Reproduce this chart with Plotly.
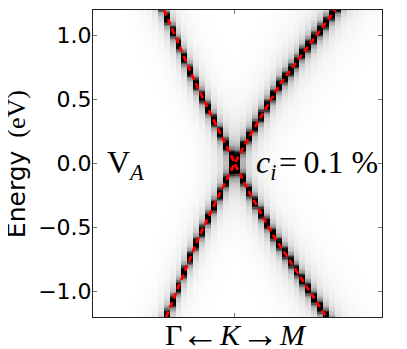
import numpy as np
import plotly.graph_objects as go

# Spectral peak position (eV) of each momentum column.
# Columns are listed outward from K (k = 0.5, 1.5, ...).
left_upper = [0.05, 0.145, 0.24, 0.335, 0.43, 0.52, 0.62, 0.72, 0.825, 0.93, 1.03, 1.135,
              1.24, 1.345, 1.45, 1.56, 1.67, 1.78, 1.89, 2.0, 2.1, 2.2, 2.3, 2.4]
left_lower = [-0.045, -0.14, -0.24, -0.335, -0.43, -0.53, -0.63, -0.74, -0.85, -0.97, -1.08, -1.19,
              -1.30, -1.42, -1.53, -1.64, -1.75, -1.86, -1.97, -2.08, -2.18, -2.28, -2.38, -2.48]
right_upper = [0.04, 0.13, 0.21, 0.29, 0.37, 0.45, 0.53, 0.61, 0.67, 0.73, 0.79, 0.86, 0.92,
               0.98, 1.04, 1.10, 1.165, 1.225, 1.29, 1.35, 1.41, 1.47, 1.535, 1.6, 1.66]
right_lower = [-0.04, -0.125, -0.22, -0.305, -0.39, -0.47, -0.555, -0.63, -0.70, -0.77, -0.84, -0.91,
               -0.98, -1.055, -1.125, -1.195, -1.265, -1.335, -1.41, -1.48, -1.55, -1.62, -1.69, -1.76, -1.83]

# Line shape: darkness against distance from the peak (eV).
shape_offset = [0.0, 0.025, 0.04, 0.06, 0.09, 0.14, 0.2, 0.3, 0.5, 0.8]
shape_level = [1.0, 1.0, 0.75, 0.4, 0.22, 0.12, 0.07, 0.035, 0.012, 0.0]

# Dashed red dispersion lines.
line_a_k = [-11.95, -6.7, -0.25, 0.0, 2.29, 6.53, 15.34, 15.68]
line_a_e = [1.2, 0.637, 0.03, 0.0, -0.207, -0.559, -1.184, -1.2]
line_b_k = [-11.6, -6.19, -2.8, 0.0, 2.97, 7.71, 16.69, 17.12]
line_b_e = [-1.2, -0.59, -0.262, 0.0, 0.246, 0.621, 1.176, 1.2]

y_ticks = [-1.0, -0.5, 0.0, 0.5, 1.0]

columns_k = [-(i + 0.5) for i in range(len(left_upper))][::-1] + [i + 0.5 for i in range(len(right_upper))]
energy = np.arange(-1.2, 1.2001, 0.01)
peaks_upper = left_upper[::-1] + right_upper
peaks_lower = left_lower[::-1] + right_lower

z = np.zeros((len(energy), len(columns_k)))
for j in range(len(columns_k)):
    for peak in (peaks_upper[j], peaks_lower[j]):
        z[:, j] += np.interp(np.abs(energy - peak), shape_offset, shape_level)
z = np.clip(z, 0, 1)

fig = go.Figure()
fig.add_trace(go.Heatmap(x=columns_k, y=energy, z=z, zmin=0, zmax=1, showscale=False,
                         colorscale=[[0, "#ffffff"], [1, "#000000"]]))
for k, e in ((line_a_k, line_a_e), (line_b_k, line_b_e)):
    fig.add_trace(go.Scatter(x=k, y=e, mode="lines", showlegend=False,
                             line=dict(color="#ff0000", width=2.8, dash="6px,4px")))

serif = "Liberation Serif"
sans = "DejaVu Sans"
axis_line = dict(showline=True, linecolor="#222222", linewidth=1, mirror="allticks",
                 ticks="inside", ticklen=4, tickcolor="#777777", tickwidth=1, showgrid=False, zeroline=False)
fig.update_xaxes(range=[-24, 25], tickvals=[0], ticktext=[""], **axis_line)
fig.update_yaxes(range=[-1.2, 1.2], tickvals=y_ticks, tickformat=".1f", ticklabelstandoff=-4,
                 tickfont=dict(family=sans, size=22, color="#000000"), **axis_line)

# The page body adds a margin, so the figure is sized and placed to allow for it.
PAGE = 8
W, H = 407 - PAGE, 349 - PAGE
L, R, T, B = 93 - PAGE, 382.5 - PAGE, 10 - PAGE, 317 - PAGE


def note(px, py, text, family, size, xanchor="center", angle=0):
    return dict(x=(px - PAGE - L) / (R - L), y=(B - (py - PAGE)) / (B - T), xref="paper", yref="paper",
                xanchor=xanchor, yanchor="middle", showarrow=False, textangle=angle, text=text,
                font=dict(family=family, size=size, color="#000000"))


annotations = [
    note(173.5, 334, "Γ", serif, 30),
    note(200, 334, "←", serif, 38),
    note(231, 334, "<i>K</i>", serif, 30),
    note(260.5, 334, "→", serif, 38),
    note(293.5, 334, "<i>M</i>", serif, 30),
    note(16, 194, "Energy", sans, 25, angle=-90),
    note(16, 113.5, "(eV)", serif, 26, angle=-90),
    note(105, 164, "V<sub><i>A</i></sub>", serif, 32, xanchor="left"),
    note(254, 164, "<i>c<sub>i</sub></i>\u200a=\u20090.1 %", serif, 32, xanchor="left"),
]
fig.update_layout(width=W, height=H, autosize=False, paper_bgcolor="#ffffff", plot_bgcolor="#ffffff",
                  margin=dict(l=L, r=W - R, t=T, b=H - B), showlegend=False, annotations=annotations)
fig.write_html("out.html")
